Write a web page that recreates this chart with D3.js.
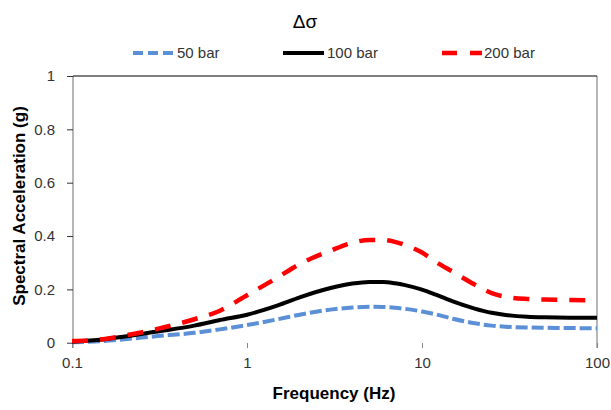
<!DOCTYPE html>
<html>
<head>
<meta charset="utf-8">
<script src="https://cdn.jsdelivr.net/npm/d3@7"></script>
<style>
  html, body { margin: 0; padding: 0; background: #fff; }
  svg { display: block; font-family: "Liberation Sans", Arial, sans-serif; }
</style>
</head>
<body>
<svg id="chart" width="611" height="410"></svg>
<script>
// Frequencies (Hz) at which the response spectra are sampled
const freq = [0.1, 0.15, 0.2, 0.3, 0.5, 0.7, 1, 1.5, 2, 3, 4, 5, 6, 7, 8, 10, 12, 15, 20, 25, 30, 40, 50, 70, 100];

// Spectral acceleration (g) for each stress drop
const sa50 = [0.002, 0.006, 0.013, 0.024, 0.037, 0.050, 0.066, 0.088, 0.105, 0.124, 0.132, 0.135, 0.134, 0.131, 0.127, 0.117, 0.106, 0.090, 0.073, 0.064, 0.060, 0.057, 0.056, 0.055, 0.054];
const sa100 = [0.004, 0.012, 0.023, 0.041, 0.064, 0.085, 0.105, 0.140, 0.170, 0.205, 0.222, 0.228, 0.228, 0.223, 0.216, 0.199, 0.180, 0.155, 0.128, 0.112, 0.104, 0.097, 0.095, 0.094, 0.094];
const sa200 = [0.006, 0.013, 0.027, 0.050, 0.088, 0.120, 0.178, 0.245, 0.295, 0.345, 0.375, 0.385, 0.385, 0.378, 0.366, 0.338, 0.303, 0.266, 0.218, 0.186, 0.172, 0.164, 0.162, 0.160, 0.159];

const seriesNames = ["50 bar", "100 bar", "200 bar"];
const xTicks = [0.1, 1, 10, 100];
const yTicks = [0, 0.2, 0.4, 0.6, 0.8, 1];

const series = [
  { name: seriesNames[0], values: sa50, color: "#5B8FD6", width: 4, dash: "12 4", legendDash: "10 5" },
  { name: seriesNames[1], values: sa100, color: "#000000", width: 4, dash: null, legendDash: null },
  { name: seriesNames[2], values: sa200, color: "#FF0000", width: 4.5, dash: "16 12", legendDash: "15 13" }
];

const svg = d3.select("#chart");

const x = d3.scaleLog().domain([0.1, 100]).range([72, 597]);
const y = d3.scaleLinear().domain([0, 1]).range([342.7, 76]);

const axisGray = "#868686";
const labelColor = "#333";

// Plot frame: gray vertical sides, black top edge
svg.append("line").attr("x1", 73).attr("x2", 73).attr("y1", 76).attr("y2", 348)
  .attr("stroke", axisGray).attr("stroke-width", 1.2);
svg.append("line").attr("x1", 597).attr("x2", 597).attr("y1", 76).attr("y2", 348)
  .attr("stroke", axisGray).attr("stroke-width", 1.2);
svg.append("line").attr("x1", 73).attr("x2", 597).attr("y1", y(1)).attr("y2", y(1))
  .attr("stroke", "#000").attr("stroke-width", 1.2);

// Y axis
const yAxis = d3.axisLeft(y).tickValues(yTicks).tickSize(6).tickPadding(12)
  .tickFormat(d => String(d));
const gy = svg.append("g").attr("transform", "translate(73,0)").call(yAxis);
gy.select(".domain").remove();
gy.selectAll(".tick line").attr("stroke", "#333").attr("stroke-width", 1);
gy.selectAll(".tick text").attr("fill", labelColor).style("font-size", "15px")
  .style("font-family", "'Liberation Sans', Arial, sans-serif");

// X axis (tick marks hang below the zero line)
const xAxis = d3.axisBottom(x).tickValues(xTicks).tickSize(5).tickPadding(9)
  .tickFormat(d => String(d));
const gx = svg.append("g").attr("transform", "translate(0,343)").call(xAxis);
gx.select(".domain").remove();
gx.selectAll(".tick line").attr("stroke", axisGray).attr("stroke-width", 1);
gx.selectAll(".tick text").attr("fill", labelColor).style("font-size", "15px")
  .style("font-family", "'Liberation Sans', Arial, sans-serif");

// Series lines
const line = d3.line()
  .x((d, i) => x(freq[i]))
  .y(d => y(d))
  .curve(d3.curveMonotoneX);

series.forEach(s => {
  svg.append("path")
    .datum(s.values)
    .attr("d", line)
    .attr("fill", "none")
    .attr("stroke", s.color)
    .attr("stroke-width", s.width)
    .attr("stroke-dasharray", s.dash)
    .attr("stroke-linejoin", "round");
});

// Title
svg.append("text").attr("x", 305).attr("y", 28).attr("text-anchor", "middle")
  .attr("fill", "#000").style("font-size", "19px").text("Δσ");

// Legend
const legendItems = [
  { s: series[0], x0: 133, x1: 175, tx: 177 },
  { s: series[1], x0: 283, x1: 324, tx: 327 },
  { s: series[2], x0: 442, x1: 482, tx: 484 }
];
legendItems.forEach(li => {
  svg.append("line").attr("x1", li.x0).attr("x2", li.x1).attr("y1", 53).attr("y2", 53)
    .attr("stroke", li.s.color).attr("stroke-width", li.s.width)
    .attr("stroke-dasharray", li.s.legendDash);
  svg.append("text").attr("x", li.tx).attr("y", 58).attr("fill", labelColor)
    .style("font-size", "15px").text(li.s.name);
});

// Axis titles
svg.append("text").attr("x", 334).attr("y", 399).attr("text-anchor", "middle")
  .attr("fill", "#000").style("font-size", "17px").style("font-weight", "bold")
  .text("Frequency (Hz)");
svg.append("text").attr("transform", "translate(25,206) rotate(-90)")
  .attr("text-anchor", "middle").attr("fill", "#000")
  .style("font-size", "17px").style("font-weight", "bold")
  .text("Spectral Acceleration (g)");
</script>
</body>
</html>
